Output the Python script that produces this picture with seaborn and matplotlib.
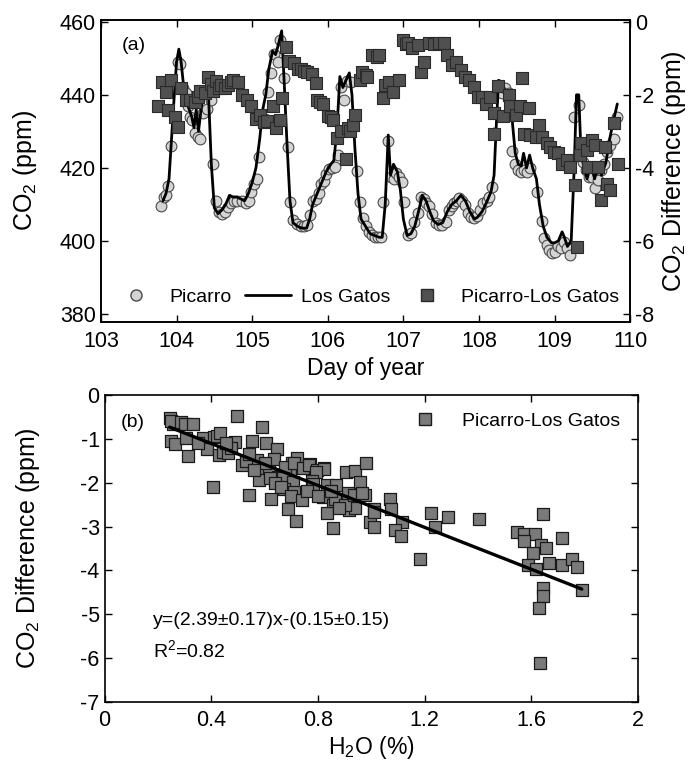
import numpy as np
import pandas as pd
import seaborn as sns
import matplotlib
matplotlib.use("Agg")
import matplotlib.pyplot as plt
from matplotlib.lines import Line2D

# ---- panel (a): time series, Day of year ----
# Los Gatos analyser (line)
lg_day = [103.82, 103.86, 103.90, 103.93, 103.97, 104.00, 104.03, 104.06, 104.10, 104.15,
          104.20, 104.23, 104.26, 104.29, 104.33, 104.37, 104.42, 104.46, 104.50, 104.55,
          104.60, 104.65, 104.70, 104.75, 104.80, 104.85, 104.90, 104.95, 105.00, 105.05,
          105.10, 105.14, 105.18, 105.22, 105.27, 105.31, 105.35, 105.39, 105.42, 105.46,
          105.50, 105.54, 105.60, 105.66, 105.72, 105.76, 105.80, 105.86, 105.92, 105.98,
          106.04, 106.08, 106.12, 106.16, 106.20, 106.24, 106.285, 106.32, 106.36, 106.40,
          106.44, 106.50, 106.56, 106.62, 106.68, 106.72, 106.76, 106.80, 106.83, 106.87,
          106.92, 106.96, 107.00, 107.05, 107.10, 107.15, 107.20, 107.25, 107.30, 107.35,
          107.40, 107.46, 107.52, 107.58, 107.64, 107.70, 107.76, 107.82, 107.88, 107.94,
          107.98, 108.04, 108.10, 108.16, 108.20, 108.23, 108.26, 108.29, 108.33, 108.37,
          108.41, 108.44, 108.48, 108.52, 108.56, 108.59, 108.63, 108.67, 108.71, 108.76,
          108.80, 108.85, 108.90, 108.96, 109.00, 109.05, 109.10, 109.13, 109.17, 109.22,
          109.26, 109.29, 109.32, 109.35, 109.39, 109.43, 109.48, 109.53, 109.58, 109.62,
          109.68, 109.73, 109.78, 109.83]
lg_co2 = [411, 413, 417, 427, 440, 449, 452.5, 449, 441, 437,
          434, 431, 436, 430, 437, 440, 441, 421, 409, 407.5,
          408.5, 410, 412.5, 412, 412, 411.5, 411, 413, 416, 420,
          428, 436, 440, 447, 452, 451, 454, 457.5, 445, 427,
          411, 405, 404, 403.5, 403.5, 406, 410, 413, 416, 419,
          421, 422, 430, 445, 442, 444, 446, 440, 425, 413,
          406, 404, 402, 401.5, 401, 401, 410, 429, 418, 421,
          419, 414, 406, 401.5, 402, 404, 408, 412.5, 411, 408,
          405.5, 404.5, 405, 408, 410, 411, 412.5, 411, 408, 406,
          406.5, 408, 410.5, 413.5, 418, 432, 444, 441, 442, 440,
          441, 433, 424, 421, 420.5, 424, 420, 423.5, 420, 417,
          410, 404, 401, 399.5, 399.5, 400, 402.5, 401, 398.5, 400,
          420, 440, 440, 424, 420, 417, 421, 417, 421, 418,
          421.5, 428, 433, 437.5]

# Picarro analyser (circles)
pic_day = [103.80, 103.83, 103.86, 103.89, 103.93, 104.02, 104.05, 104.08, 104.12, 104.15,
           104.18, 104.21, 104.25, 104.28, 104.31, 104.35, 104.40, 104.45, 104.48, 104.52,
           104.56, 104.60, 104.64, 104.68, 104.72, 104.76, 104.80, 104.86, 104.92, 104.96,
           104.99, 105.03, 105.06, 105.09, 105.17, 105.21, 105.25, 105.29, 105.34, 105.37,
           105.42, 105.47, 105.50, 105.54, 105.59, 105.64, 105.68, 105.72, 105.76, 105.80,
           105.84, 105.88, 105.91, 105.95, 105.98, 106.02, 106.05, 106.09, 106.13, 106.17,
           106.21, 106.26, 106.31, 106.39, 106.42, 106.46, 106.50, 106.54, 106.59, 106.63,
           106.67, 106.71, 106.73, 106.80, 106.83, 106.87, 106.90, 106.94, 106.98, 107.01,
           107.06, 107.10, 107.14, 107.19, 107.23, 107.27, 107.30, 107.34, 107.38, 107.43,
           107.47, 107.51, 107.56, 107.60, 107.64, 107.67, 107.71, 107.74, 107.78, 107.82,
           107.86, 107.90, 107.94, 107.98, 108.02, 108.06, 108.10, 108.13, 108.17, 108.20,
           108.26, 108.30, 108.35, 108.40, 108.44, 108.48, 108.52, 108.56, 108.60, 108.64,
           108.68, 108.77, 108.83, 108.86, 108.90, 108.93, 108.97, 109.01, 109.04, 109.08,
           109.12, 109.16, 109.20, 109.26, 109.32, 109.35, 109.38, 109.42, 109.46, 109.50,
           109.54, 109.58, 109.62, 109.66, 109.70, 109.74, 109.78, 109.83]
pic_co2 = [409.6, 412, 412.5, 415, 426, 449, 448.5, 442, 440.5, 437,
           434, 433, 429.5, 428.5, 428, 435, 436, 438.7, 421.2, 411,
           407.8, 407.5, 408, 409.3, 410.5, 411, 411, 411, 410.5, 411,
           413.5, 415.5, 417, 422.9, 433.5, 440.8, 446, 451.3, 449.1, 455,
           444.5, 425.8, 410.7, 405.7, 404.6, 404.2, 404, 404.3, 407, 411,
           411.5, 413, 415.7, 416.5, 418.4, 419.7, 420, 420.2, 423.5, 442.2,
           438.6, 443.8, 443.6, 419.2, 410.7, 406.4, 404, 402.5, 401.5, 401,
           401, 401.2, 410.8, 427.3, 417.6, 417, 418.5, 417.5, 416.2, 410.8,
           401.6, 402.1, 405.3, 407.6, 412.1, 411.5, 410.3, 409.5, 407.5, 404.8,
           404.5, 404.4, 405.3, 408.5, 409.5, 410.3, 411, 411.7, 411, 409.9,
           407.6, 406.5, 406.2, 406.7, 408.5, 410.3, 411, 412.1, 414.8, 429.5,
           442.8, 440.5, 441.8, 440.4, 424.5, 421, 419.5, 419, 419.5, 419,
           420, 413.5, 405.5, 400.7, 398.9, 397.5, 396.6, 397.1, 398.5, 398,
           399.8, 398, 396.2, 434, 437.2, 423.9, 421.7, 419.4, 417.5, 417.6,
           414.5, 416.7, 419.4, 421, 424.4, 426.2, 428, 434]

# Picarro - Los Gatos difference (squares, right axis)
dif_day = [103.76, 103.81, 103.86, 103.89, 103.93, 103.98, 104.02, 104.06, 104.12, 104.175,
           104.24, 104.28, 104.31, 104.37, 104.42, 104.45, 104.48, 104.52, 104.56, 104.59,
           104.64, 104.68, 104.72, 104.75, 104.81, 104.87, 104.93, 104.99, 105.05, 105.10,
           105.15, 105.19, 105.27, 105.31, 105.37, 105.39, 105.45, 105.49, 105.55, 105.60,
           105.64, 105.68, 105.73, 105.79, 105.84, 105.86, 105.90, 105.94, 106.00, 106.04,
           106.07, 106.12, 106.18, 106.24, 106.27, 106.29, 106.33, 106.36, 106.42, 106.45,
           106.505, 106.52, 106.59, 106.65, 106.68, 106.725, 106.76, 106.81, 106.86, 106.94,
           106.99, 107.03, 107.055, 107.12, 107.19, 107.23, 107.275, 107.34, 107.40, 107.47,
           107.54, 107.58, 107.64, 107.69, 107.76, 107.815, 107.87, 107.93, 107.99, 108.035,
           108.09, 108.145, 108.20, 108.20, 108.255, 108.316, 108.396, 108.417, 108.484, 108.537,
           108.563, 108.594, 108.66, 108.68, 108.748, 108.79, 108.836, 108.90, 108.946, 108.99,
           109.047, 109.10, 109.165, 109.21, 109.266, 109.297, 109.34, 109.355, 109.43, 109.44,
           109.495, 109.54, 109.575, 109.62, 109.67, 109.693, 109.737, 109.78, 109.838]
dif_val = [-2.31, -1.64, -1.92, -2.42, -1.60, -2.60, -2.89, -1.82, -2.15, -2.15,
           -2.20, -2.05, -1.89, -1.96, -1.51, -1.70, -1.89, -1.62, -1.80, -1.73,
           -1.82, -1.73, -1.66, -1.60, -1.64, -2.01, -2.15, -2.31, -2.65, -2.56,
           -2.75, -2.71, -2.31, -2.92, -2.69, -2.10, -0.70, -1.07, -1.12, -1.28,
           -1.30, -1.34, -1.37, -1.42, -1.69, -2.13, -2.20, -2.26, -2.58, -2.62,
           -2.69, -3.19, -2.99, -3.77, -2.90, -3.00, -2.82, -2.56, -1.60, -1.37,
           -1.46, -1.50, -0.90, -0.96, -0.91, -2.10, -1.74, -1.64, -1.92, -1.60,
           -0.50, -0.60, -0.57, -0.73, -0.64, -1.37, -1.09, -0.59, -0.62, -0.59,
           -0.59, -0.91, -1.18, -1.09, -1.32, -1.51, -1.60, -1.78, -2.06, -2.07,
           -2.24, -2.06, -2.51, -3.06, -1.76, -2.59, -2.01, -2.31, -2.56, -2.31,
           -1.55, -3.06, -2.37, -3.10, -3.15, -2.83, -3.15, -3.33, -3.42, -3.56,
           -3.60, -3.88, -3.79, -3.97, -4.47, -6.16, -3.65, -3.33, -3.51, -3.97,
           -3.24, -3.38, -3.97, -4.88, -3.42, -4.43, -4.61, -2.78, -3.90]

# ---- panel (b): difference vs H2O ----
h2o = [0.244, 0.257, 0.250, 0.288, 0.300, 0.330, 0.248, 0.263, 0.305, 0.313,
       0.370, 0.386, 0.410, 0.420, 0.432, 0.430, 0.445, 0.464, 0.489, 0.495,
       0.514, 0.551, 0.589, 0.607, 0.645, 0.570, 0.583, 0.617, 0.636, 0.649,
       0.580, 0.408, 0.543, 0.623, 0.658, 0.695, 0.682, 0.695, 0.702, 0.723,
       0.677, 0.711, 0.743, 0.771, 0.765, 0.796, 0.822, 0.821, 0.793, 0.777,
       0.670, 0.708, 0.673, 0.711, 0.777, 0.783, 0.833, 0.868, 0.846, 0.820,
       0.906, 0.940, 0.981, 0.959, 0.890, 0.856, 0.833, 0.689, 0.718, 0.858,
       0.915, 0.940, 0.940, 0.977, 1.011, 0.996, 1.012, 1.069, 1.074, 1.115,
       1.088, 1.112, 1.182, 1.224, 1.287, 1.238, 1.403, 1.642, 1.545, 1.573,
       1.613, 1.573, 1.638, 1.654, 1.714, 1.607, 1.667, 1.589, 1.617, 1.714,
       1.754, 1.771, 1.789, 1.642, 1.642, 1.629, 1.633, 0.865, 0.900, 0.880,
       0.912, 0.935, 0.965, 1.010, 0.530, 0.600, 0.620, 0.640, 0.660, 0.700,
       0.740, 0.760, 0.800, 0.850, 0.560, 0.540, 0.475, 0.350, 0.455]
co2_diff = [-0.53, -0.65, -0.60, -0.61, -0.66, -0.65, -1.05, -1.12, -0.99, -1.39,
            -0.97, -1.22, -0.95, -0.94, -0.87, -1.37, -1.30, -1.33, -1.07, -0.47,
            -1.60, -1.05, -0.72, -1.09, -1.23, -1.48, -1.75, -1.70, -1.47, -1.86,
            -1.94, -2.09, -2.28, -2.38, -1.94, -1.70, -1.94, -1.98, -1.56, -1.43,
            -1.64, -1.56, -1.66, -1.58, -1.60, -1.70, -1.66, -1.69, -1.75, -1.96,
            -1.90, -1.99, -2.15, -2.21, -2.17, -2.02, -2.05, -2.05, -2.27, -2.32,
            -1.75, -1.73, -1.55, -1.98, -2.42, -2.51, -2.70, -2.61, -2.88, -3.04,
            -2.63, -2.57, -2.28, -2.28, -2.61, -2.89, -3.01, -2.37, -2.59, -2.89,
            -3.07, -3.22, -3.74, -2.70, -2.79, -3.01, -2.82, -2.72, -3.12, -3.16,
            -3.18, -3.33, -3.42, -3.50, -3.27, -3.61, -3.83, -3.88, -3.97, -3.88,
            -3.75, -3.93, -4.45, -4.41, -4.59, -4.86, -6.11, -2.38, -2.51, -2.58,
            -2.24, -2.28, -2.24, -2.67, -1.50, -1.55, -1.90, -2.00, -2.10, -2.30,
            -2.40, -2.20, -2.30, -2.20, -1.70, -1.35, -1.20, -1.10, -1.10]

fit_slope = -2.39
fit_intercept = -0.15

# ---- style ----
sns.set_style("ticks")
plt.rcParams["font.family"] = ["Liberation Sans", "DejaVu Sans"]
plt.rcParams["mathtext.default"] = "regular"
plt.rcParams["axes.unicode_minus"] = False
plt.rcParams["xtick.direction"] = "in"
plt.rcParams["ytick.direction"] = "in"
plt.rcParams["axes.linewidth"] = 1.2
plt.rcParams["axes.edgecolor"] = "black"
plt.rcParams["text.color"] = "black"
plt.rcParams["axes.labelcolor"] = "black"
plt.rcParams["xtick.color"] = "black"
plt.rcParams["ytick.color"] = "black"

fig = plt.figure(figsize=(6.94, 7.66), dpi=100)
ax = fig.add_axes([0.1455, 0.580, 0.7625, 0.394])
ax2 = ax.twinx()
bx = fig.add_axes([0.1506, 0.0836, 0.7688, 0.4007])

# panel (a)
sns.scatterplot(x=pic_day, y=pic_co2, ax=ax, marker="o", s=60, color="#d4d4d4",
                edgecolor="#4a4a4a", linewidth=0.8, zorder=2)
sns.lineplot(x=lg_day, y=lg_co2, ax=ax, color="black", linewidth=2.0,
             sort=False, estimator=None, zorder=3)
sns.scatterplot(x=dif_day, y=dif_val, ax=ax2, marker="s", s=70, color="#505050",
                edgecolor="#2a2a2a", linewidth=0.8, zorder=4)

ax.set_xlim(103, 110)
ax.set_ylim(377.9, 460.5)
ax.set_yticks([380, 400, 420, 440, 460])
ax.set_xticks(range(103, 111))
ax2.set_ylim(-8.21, 0.05)
ax2.set_yticks([-8, -6, -4, -2, 0])
ax.tick_params(axis="both", labelsize=15.5, length=5, width=1, top=True)
ax.tick_params(axis="x", pad=7)
ax2.tick_params(axis="y", labelsize=15.5, length=5, width=1)
ax.set_xlabel("Day of year", fontsize=16.5, labelpad=3)
ax.set_ylabel("CO$_2$ (ppm)", fontsize=18)
ax.yaxis.set_label_coords(-0.118, 0.5)
ax2.set_ylabel("CO$_2$ Difference (ppm)", fontsize=18, rotation=90, labelpad=4)
ax.text(0.04, 0.915, "(a)", transform=ax.transAxes, fontsize=14, va="center")

handles = [
    Line2D([], [], marker="o", linestyle="none", markersize=8, markerfacecolor="#d4d4d4",
           markeredgecolor="#4a4a4a"),
    Line2D([], [], color="black", linewidth=2.0),
    Line2D([], [], marker="s", linestyle="none", markersize=8, markerfacecolor="#505050",
           markeredgecolor="#2a2a2a"),
]
ax2.legend(handles, ["Picarro", "Los Gatos", "Picarro-Los Gatos"], loc="lower center",
           bbox_to_anchor=(0.5, -0.005), ncol=3, frameon=False, fontsize=14,
           handlelength=2.4, handletextpad=0.5, columnspacing=0.7)

# panel (b)
sns.scatterplot(x=h2o, y=co2_diff, ax=bx, marker="s", s=85, color="#7a7a7a",
                edgecolor="#1a1a1a", linewidth=0.9, zorder=2, label="Picarro-Los Gatos")
fit_x = [min(h2o), max(h2o)]
fit_y = [fit_slope * v + fit_intercept for v in fit_x]
sns.lineplot(x=fit_x, y=fit_y, ax=bx, color="black", linewidth=2.4, zorder=3)

bx.set_xlim(0, 2)
bx.set_ylim(-7, 0)
bx.set_xticks([0, 0.4, 0.8, 1.2, 1.6, 2])
bx.set_xticklabels(["0", "0.4", "0.8", "1.2", "1.6", "2"])
bx.set_yticks(range(-7, 1))
bx.tick_params(axis="both", labelsize=15.5, length=5, width=1, top=True, right=True)
bx.tick_params(axis="x", pad=6)
bx.set_xlabel("H$_2$O (%)", fontsize=16.5, labelpad=2)
bx.set_ylabel("CO$_2$ Difference (ppm)", fontsize=18)
bx.yaxis.set_label_coords(-0.118, 0.5)
bx.text(0.03, 0.912, "(b)", transform=bx.transAxes, fontsize=14, va="center")
bx.text(0.09, 0.267, "y=(2.39\u00b10.17)x-(0.15\u00b10.15)", transform=bx.transAxes,
        fontsize=14, va="center")
bx.text(0.09, 0.169, "R$^2$=0.82", transform=bx.transAxes, fontsize=14, va="center")

sq = Line2D([], [], marker="s", linestyle="none", markersize=9, markerfacecolor="#7a7a7a",
            markeredgecolor="#1a1a1a")
bx.legend([sq], ["Picarro-Los Gatos"], loc="upper right", frameon=False, fontsize=14,
          handletextpad=0.9, borderaxespad=0.5)

fig.savefig("out.png", dpi=100)
